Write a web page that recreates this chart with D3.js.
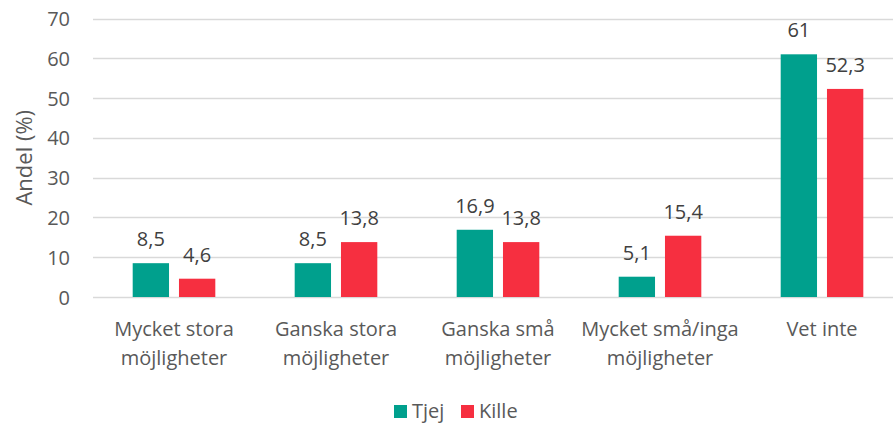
<!DOCTYPE html>
<html>
<head>
<meta charset="utf-8">
<script src="https://cdn.jsdelivr.net/npm/d3@7"></script>
<style>
    body { margin: 0; background: #fff; }
    svg { display: block; font-family: "Open Sans", "Liberation Sans", Arial, sans-serif; }
</style>
</head>
<body>
<div id="chart"></div>
<script>
(function () {
    const categories = [
        ["Mycket stora", "möjligheter"],
        ["Ganska stora", "möjligheter"],
        ["Ganska små", "möjligheter"],
        ["Mycket små/inga", "möjligheter"],
        ["Vet inte"]
    ];
    const seriesNames = ["Tjej", "Kille"];
    const tjej = [8.5, 8.5, 16.9, 5.1, 61];
    const kille = [4.6, 13.8, 13.8, 15.4, 52.3];
    const yTicks = [0, 10, 20, 30, 40, 50, 60, 70];

    const width = 893;
    const height = 423;
    const margin = { top: 18.5, right: -10, bottom: 126, left: 93 };
    const fontSize = "20px";

    const color = d3.scaleOrdinal(seriesNames, ["#00A08D", "#F62F40"]);

    const svg = d3.select("#chart")
        .append("svg")
        .attr("width", width)
        .attr("height", height);

    const x = d3.scaleBand()
        .domain(d3.range(categories.length))
        .range([margin.left, width - margin.right])
        .paddingInner(0.49)
        .paddingOuter(0.245);

    const xSeries = d3.scaleBand()
        .domain(seriesNames)
        .range([0, x.bandwidth()])
        .paddingInner(0.215);

    const y = d3.scaleLinear()
        .domain([0, 70])
        .range([height - margin.bottom, margin.top]);

    // step-based groups so bars sit like excel's clustered columns
    const step = x.step();
    const groupX = i => margin.left + step * i + (step - x.bandwidth()) / 2;

    // gridlines
    svg.append("g")
        .selectAll("line")
        .data(yTicks)
        .join("line")
        .attr("x1", margin.left)
        .attr("x2", width)
        .attr("y1", d => Math.round(y(d)) + 0.5)
        .attr("y2", d => Math.round(y(d)) + 0.5)
        .attr("stroke", "#D9D9D9")
        .attr("stroke-width", 1.3);

    // y axis labels
    const yAxis = svg.append("g")
        .attr("transform", `translate(${margin.left - 23},0)`)
        .call(d3.axisLeft(y).tickValues(yTicks).tickSize(0).tickPadding(0));
    yAxis.select(".domain").remove();
    yAxis.selectAll("text")
        .attr("dy", "0.35em")
        .style("font-size", fontSize)
        .style("fill", "#595959")
        .style("font-family", "'Open Sans', 'Liberation Sans', Arial, sans-serif");

    svg.append("text")
        .attr("transform", `translate(32,${(y(0) + y(70)) / 2}) rotate(-90)`)
        .attr("text-anchor", "middle")
        .style("font-size", "22px")
        .style("fill", "#595959")
        .text("Andel (%)");

    const data = categories.map((c, i) => ({
        i,
        values: [
            { key: "Tjej", value: tjej[i] },
            { key: "Kille", value: kille[i] }
        ]
    }));

    const groups = svg.append("g")
        .selectAll("g")
        .data(data)
        .join("g")
        .attr("transform", d => `translate(${groupX(d.i)},0)`);

    groups.selectAll("rect")
        .data(d => d.values)
        .join("rect")
        .attr("x", d => xSeries(d.key))
        .attr("y", d => y(d.value))
        .attr("width", xSeries.bandwidth())
        .attr("height", d => y(0) - y(d.value))
        .attr("fill", d => color(d.key));

    groups.selectAll("text.value")
        .data(d => d.values)
        .join("text")
        .attr("class", "value")
        .attr("x", d => xSeries(d.key) + xSeries.bandwidth() / 2)
        .attr("y", d => y(d.value) - 17)
        .attr("text-anchor", "middle")
        .style("font-size", fontSize)
        .style("fill", "#404040")
        .text(d => String(d.value).replace(".", ","));

    // category labels
    const catLabels = svg.append("g")
        .selectAll("text")
        .data(categories)
        .join("text")
        .attr("x", (d, i) => groupX(i) + x.bandwidth() / 2)
        .attr("y", 336)
        .attr("text-anchor", "middle")
        .style("font-size", fontSize)
        .style("fill", "#595959");
    catLabels.selectAll("tspan")
        .data(d => d)
        .join("tspan")
        .attr("x", function () { return d3.select(this.parentNode).attr("x"); })
        .attr("dy", (d, j) => j === 0 ? 0 : 29)
        .text(d => d);

    // legend
    const legendItems = [
        { key: "Tjej", x: 394 },
        { key: "Kille", x: 461 }
    ];
    const legend = svg.append("g")
        .selectAll("g")
        .data(legendItems)
        .join("g")
        .attr("transform", d => `translate(${d.x},405)`);
    legend.append("rect")
        .attr("width", 13)
        .attr("height", 13)
        .attr("fill", d => color(d.key));
    legend.append("text")
        .attr("x", 18)
        .attr("y", 13)
        .style("font-size", fontSize)
        .style("fill", "#595959")
        .text(d => d.key);
})();
</script>
</body>
</html>
